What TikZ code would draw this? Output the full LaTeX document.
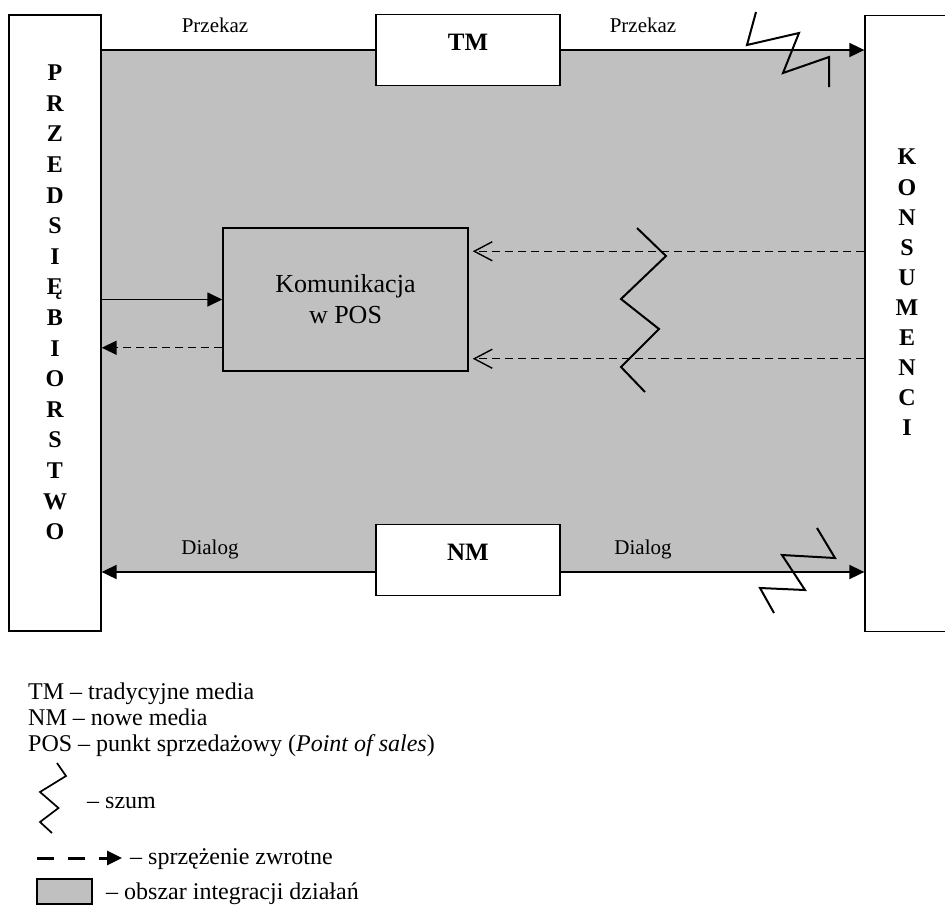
\documentclass[tikz,border=0pt]{standalone}
\usepackage{fontspec}
\setmainfont{Liberation Serif}
\usetikzlibrary{arrows.meta,calc}
\definecolor{areagray}{RGB}{192,192,192}
\begin{document}
\begin{tikzpicture}[x=1pt,y=-1pt,
  sidebox/.style={draw,line width=1.3pt,fill=white,minimum width=92pt,minimum height=616pt,inner sep=0pt},
  mediabox/.style={draw,line width=1.5pt,fill=white,minimum width=184pt,minimum height=71pt,inner sep=0pt},
  posbox/.style={draw,line width=1.5pt,minimum width=245pt,minimum height=143pt,inner sep=0pt,align=center,font=\fontsize{26}{31}\selectfont},
  flow/.style={line width=1.8pt},
  fb/.style={line width=1.4pt,dash pattern=on 8pt off 5pt},
  solidtip/.style={-{Triangle[length=15pt,width=14pt]}},
  opentip/.style={-{Straight Barb[length=18pt,width=19pt,line width=1.4pt]}},
  noise/.style={line width=2pt,line join=miter},
  lbl/.style={font=\fontsize{21}{25}\selectfont,anchor=base,inner sep=0pt},
  medlbl/.style={font=\fontsize{25}{30}\selectfont\bfseries,inner sep=0pt},
  biglbl/.style={font=\fontsize{24}{30.6}\selectfont\bfseries,align=center,inner sep=0pt},
  leg/.style={font=\fontsize{24}{28}\selectfont,anchor=base west,inner sep=0pt}
]
\useasboundingbox (0,0) rectangle (945,906);
% integration area
\fill[areagray] (101,50) rectangle (865,572);

% side boxes
\node[sidebox] (ent) at (55,323) {};
\node[biglbl] (entlbl) at (55,302.5) {P\\R\\Z\\E\\D\\S\\I\\Ę\\B\\I\\O\\R\\S\\T\\W\\O};
\node[sidebox,minimum width=85pt] (kons) at (907.5,323.5) {};
\node[biglbl,font=\fontsize{24}{30.1}\selectfont\bfseries] (konslbl) at (907,292.5) {K\\O\\N\\S\\U\\M\\E\\N\\C\\I};

% media boxes
\node[mediabox] (tm) at (468,50) {};
\node[medlbl] (tmlbl) at (468,42) {TM};
\node[mediabox] (nm) at (468,560) {};
\node[medlbl] (nmlbl) at (468,552) {NM};

% top flow
\draw[flow] (ent.east |- tm.west) -- (tm.west);
\draw[flow,solidtip] (tm.east) -- (kons.west |- tm.east);
\node[lbl] (p1) at (215,32) {Przekaz};
\node[lbl] (p2) at (643,32) {Przekaz};

% bottom flow
\coordinate (nmL) at ($(nm.west)+(0,12)$);
\coordinate (nmR) at ($(nm.east)+(0,12)$);
\draw[flow,solidtip] (nmL) -- (ent.east |- nmL);
\draw[flow,solidtip] (nmR) -- (kons.west |- nmR);
\node[lbl] (d1) at (210,554) {Dialog};
\node[lbl] (d2) at (643,554) {Dialog};

% POS
\node[posbox] (pos) at (345.5,299.5) {Komunikacja\\w POS};
\draw[flow,solidtip] (ent.east |- pos.west) -- (pos.west);
\coordinate (posfb) at ($(pos.south west)+(0,-24)$);
\draw[fb,solidtip] (posfb) -- (ent.east |- posfb);
\coordinate (r1) at ($(pos.north east)+(0,24)$);
\coordinate (r2) at ($(pos.south east)+(0,-13)$);
\draw[fb,opentip,shorten >=4pt] (kons.west |- r1) -- (r1);
\draw[fb,opentip,shorten >=4pt] (kons.west |- r2) -- (r2);

% noise
\draw[noise] (756,12) -- (747,45) -- (799,33) -- (783,73) -- (829,57) -- (829,87);
\draw[noise] (637,228) -- (666,256) -- (621,299) -- (659,329) -- (621,367) -- (645,392);
\draw[noise] (817,528) -- (835,558) -- (782,555) -- (805,590) -- (760,588) -- (774,613);

% legend
\node[leg] (l1) at (28,699) {TM – tradycyjne media};
\node[leg] (l2) at (28,725) {NM – nowe media};
\node[leg] (l3) at (28,751) {POS – punkt sprzedażowy (\textit{Point of sales})};
\draw[noise,line width=1.7pt] (57,763) -- (66,776) -- (40,792) -- (58.5,808) -- (40,822) -- (52,833);
\node[leg] (l4) at (87,808) {– szum};
\draw[line width=3pt,dash pattern=on 17pt off 14pt,solidtip] (37,858) -- (122,858);
\node[leg] (l5) at (130,864) {– sprzężenie zwrotne};
\draw[line width=1.5pt,fill=areagray] (37,879) rectangle (92,904);
\node[leg] (l6) at (106,899) {– obszar integracji działań};
\end{tikzpicture}
\end{document}
